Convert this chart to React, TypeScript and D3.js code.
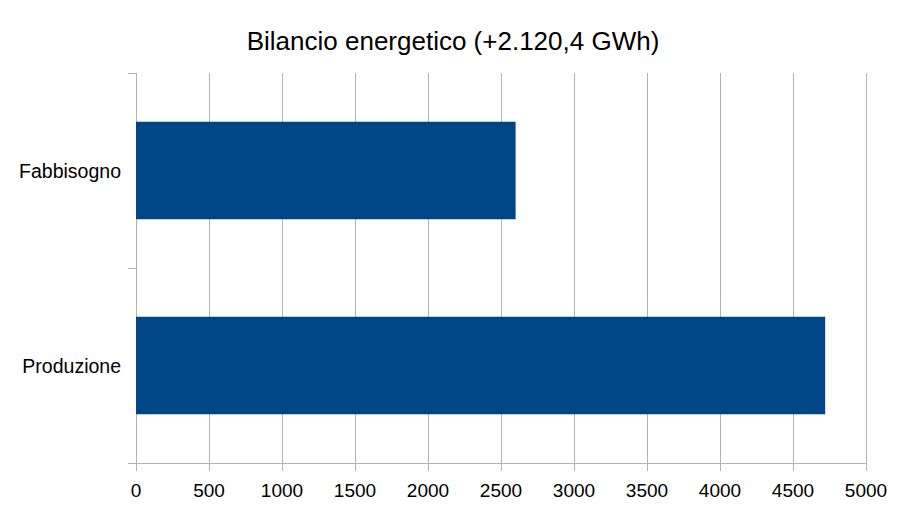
import { useEffect, useRef } from 'react';
import * as d3 from 'd3';

const titleText = 'Bilancio energetico (+2.120,4 GWh)';
const categories = ['Fabbisogno', 'Produzione'];
const values = [2600, 4720.4];
const xTicks = [0, 500, 1000, 1500, 2000, 2500, 3000, 3500, 4000, 4500, 5000];

export default function App() {
    const svgRef = useRef<SVGSVGElement>(null);

    useEffect(() => {
        if (!svgRef.current) return;
        const svg = d3.select(svgRef.current);
        svg.selectAll('*').remove();

        const font = '"Liberation Sans", Arial, sans-serif';
        const left = 136, right = 866, top = 73, bottom = 463;
        const gridColor = '#b3b3b3';

        const x = d3.scaleLinear().domain([0, 5000]).range([left, right]);
        const y = d3.scaleBand<string>()
            .domain(categories)
            .range([top, bottom])
            .paddingInner(0.5)
            .paddingOuter(0.25);

        // Title
        svg.append('text')
            .attr('x', 453)
            .attr('y', 50)
            .attr('text-anchor', 'middle')
            .style('font-family', font)
            .style('font-size', '26px')
            .style('fill', '#000')
            .text(titleText);

        // Vertical grid lines
        svg.append('g')
            .selectAll('line')
            .data(xTicks)
            .enter()
            .append('line')
            .attr('x1', d => x(d))
            .attr('x2', d => x(d))
            .attr('y1', top)
            .attr('y2', bottom + 8)
            .attr('stroke', gridColor)
            .attr('stroke-width', 1)
            .attr('shape-rendering', 'crispEdges');

        // Category boundaries on the left (ticks)
        const bounds = [top, ...categories.map(c => (y(c) || 0) + y.bandwidth() + y.step() * 0.25)];
        svg.append('g')
            .selectAll('line')
            .data(bounds)
            .enter()
            .append('line')
            .attr('x1', left - 8)
            .attr('x2', left)
            .attr('y1', d => d)
            .attr('y2', d => d)
            .attr('stroke', gridColor)
            .attr('shape-rendering', 'crispEdges');

        // Bottom axis line
        svg.append('line')
            .attr('x1', left - 8)
            .attr('x2', right)
            .attr('y1', bottom)
            .attr('y2', bottom)
            .attr('stroke', gridColor)
            .attr('shape-rendering', 'crispEdges');

        // Bars
        svg.append('g')
            .selectAll('rect')
            .data(categories)
            .enter()
            .append('rect')
            .attr('x', x(0))
            .attr('y', d => y(d) || 0)
            .attr('width', (d, i) => x(values[i]) - x(0))
            .attr('height', y.bandwidth())
            .attr('fill', '#004586');

        // X tick labels
        svg.append('g')
            .selectAll('text')
            .data(xTicks)
            .enter()
            .append('text')
            .attr('x', d => x(d))
            .attr('y', 497)
            .attr('text-anchor', 'middle')
            .style('font-family', font)
            .style('font-size', '19px')
            .style('fill', '#000')
            .text(d => String(d));

        // Category labels
        svg.append('g')
            .selectAll('text')
            .data(categories)
            .enter()
            .append('text')
            .attr('x', 121)
            .attr('y', d => (y(d) || 0) + y.bandwidth() / 2 + 7)
            .attr('text-anchor', 'end')
            .style('font-family', font)
            .style('font-size', '19.5px')
            .style('fill', '#000')
            .text(d => d);
    }, []);

    return (
        <svg
            ref={svgRef}
            width={907}
            height={510}
            style={{ position: 'absolute', left: 0, top: 0, background: '#fff' }}
        />
    );
}
